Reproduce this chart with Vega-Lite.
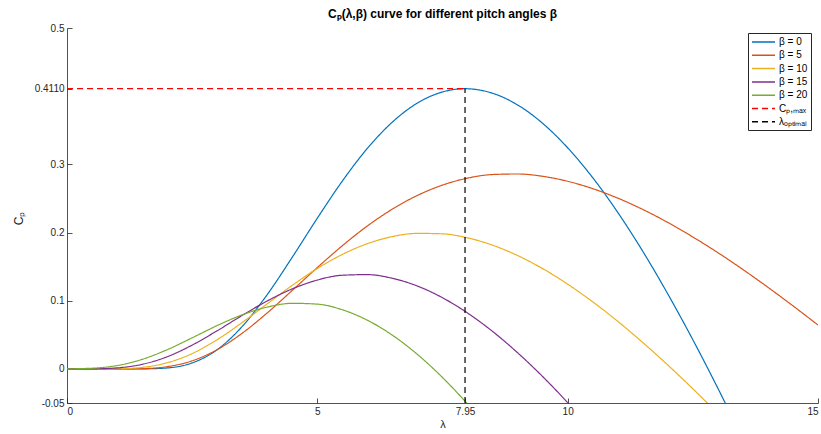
{
  "$schema": "https://vega.github.io/schema/vega-lite/v6.json",
  "width": 751,
  "height": 375,
  "autosize": {"type": "none"},
  "padding": {"left": 67, "top": 28, "right": 3, "bottom": 31},
  "background": "white",
  "title": {
    "text": "Cₚ(λ,β) curve for different pitch angles β",
    "font": "Liberation Sans",
    "fontSize": 12,
    "fontWeight": "bold",
    "color": "#000000",
    "anchor": "middle",
    "baseline": "alphabetic",
    "offset": -7
  },
  "datasets": {
    "curves": [
      {"series": "β = 0", "lambda": 0, "cp": 0},
      {"series": "β = 0", "lambda": 0.5, "cp": 0},
      {"series": "β = 0", "lambda": 1, "cp": 0},
      {"series": "β = 0", "lambda": 1.5, "cp": 0.00006},
      {"series": "β = 0", "lambda": 2, "cp": 0.0014},
      {"series": "β = 0", "lambda": 2.5, "cp": 0.0088},
      {"series": "β = 0", "lambda": 3, "cp": 0.0282},
      {"series": "β = 0", "lambda": 3.5, "cp": 0.0623},
      {"series": "β = 0", "lambda": 4, "cp": 0.1091},
      {"series": "β = 0", "lambda": 4.5, "cp": 0.1639},
      {"series": "β = 0", "lambda": 5, "cp": 0.2211},
      {"series": "β = 0", "lambda": 5.5, "cp": 0.2756},
      {"series": "β = 0", "lambda": 6, "cp": 0.3235},
      {"series": "β = 0", "lambda": 6.5, "cp": 0.3621},
      {"series": "β = 0", "lambda": 7, "cp": 0.39},
      {"series": "β = 0", "lambda": 7.5, "cp": 0.4062},
      {"series": "β = 0", "lambda": 7.95, "cp": 0.411},
      {"series": "β = 0", "lambda": 8, "cp": 0.4109},
      {"series": "β = 0", "lambda": 8.5, "cp": 0.4043},
      {"series": "β = 0", "lambda": 9, "cp": 0.3872},
      {"series": "β = 0", "lambda": 9.5, "cp": 0.3602},
      {"series": "β = 0", "lambda": 10, "cp": 0.3243},
      {"series": "β = 0", "lambda": 10.5, "cp": 0.2805},
      {"series": "β = 0", "lambda": 11, "cp": 0.2296},
      {"series": "β = 0", "lambda": 11.5, "cp": 0.1725},
      {"series": "β = 0", "lambda": 12, "cp": 0.1099},
      {"series": "β = 0", "lambda": 12.5, "cp": 0.0428},
      {"series": "β = 0", "lambda": 13, "cp": -0.0284},
      {"series": "β = 0", "lambda": 13.5, "cp": -0.1029},

      {"series": "β = 5", "lambda": 0, "cp": 0},
      {"series": "β = 5", "lambda": 0.5, "cp": 0},
      {"series": "β = 5", "lambda": 1, "cp": 0},
      {"series": "β = 5", "lambda": 1.5, "cp": 0.0004},
      {"series": "β = 5", "lambda": 2, "cp": 0.0033},
      {"series": "β = 5", "lambda": 2.5, "cp": 0.0119},
      {"series": "β = 5", "lambda": 3, "cp": 0.0283},
      {"series": "β = 5", "lambda": 3.5, "cp": 0.0524},
      {"series": "β = 5", "lambda": 4, "cp": 0.0822},
      {"series": "β = 5", "lambda": 4.5, "cp": 0.1152},
      {"series": "β = 5", "lambda": 5, "cp": 0.1487},
      {"series": "β = 5", "lambda": 5.5, "cp": 0.1807},
      {"series": "β = 5", "lambda": 6, "cp": 0.2097},
      {"series": "β = 5", "lambda": 6.5, "cp": 0.2344},
      {"series": "β = 5", "lambda": 7, "cp": 0.2545},
      {"series": "β = 5", "lambda": 7.5, "cp": 0.2696},
      {"series": "β = 5", "lambda": 8, "cp": 0.2798},
      {"series": "β = 5", "lambda": 8.5, "cp": 0.2851},
      {"series": "β = 5", "lambda": 9, "cp": 0.2859},
      {"series": "β = 5", "lambda": 9.5, "cp": 0.2825},
      {"series": "β = 5", "lambda": 10, "cp": 0.2752},
      {"series": "β = 5", "lambda": 10.5, "cp": 0.2644},
      {"series": "β = 5", "lambda": 11, "cp": 0.2505},
      {"series": "β = 5", "lambda": 11.5, "cp": 0.2339},
      {"series": "β = 5", "lambda": 12, "cp": 0.2148},
      {"series": "β = 5", "lambda": 12.5, "cp": 0.1935},
      {"series": "β = 5", "lambda": 13, "cp": 0.1705},
      {"series": "β = 5", "lambda": 13.5, "cp": 0.1458},
      {"series": "β = 5", "lambda": 14, "cp": 0.1197},
      {"series": "β = 5", "lambda": 14.5, "cp": 0.0925},
      {"series": "β = 5", "lambda": 15, "cp": 0.0643},

      {"series": "β = 10", "lambda": 0, "cp": 0},
      {"series": "β = 10", "lambda": 0.5, "cp": 0},
      {"series": "β = 10", "lambda": 1, "cp": 0.0002},
      {"series": "β = 10", "lambda": 1.5, "cp": 0.0022},
      {"series": "β = 10", "lambda": 2, "cp": 0.009},
      {"series": "β = 10", "lambda": 2.5, "cp": 0.0225},
      {"series": "β = 10", "lambda": 3, "cp": 0.0429},
      {"series": "β = 10", "lambda": 3.5, "cp": 0.0681},
      {"series": "β = 10", "lambda": 4, "cp": 0.0955},
      {"series": "β = 10", "lambda": 4.5, "cp": 0.1226},
      {"series": "β = 10", "lambda": 5, "cp": 0.1473},
      {"series": "β = 10", "lambda": 5.5, "cp": 0.1679},
      {"series": "β = 10", "lambda": 6, "cp": 0.1837},
      {"series": "β = 10", "lambda": 6.5, "cp": 0.1941},
      {"series": "β = 10", "lambda": 7, "cp": 0.1988},
      {"series": "β = 10", "lambda": 7.5, "cp": 0.1981},
      {"series": "β = 10", "lambda": 8, "cp": 0.1922},
      {"series": "β = 10", "lambda": 8.5, "cp": 0.1815},
      {"series": "β = 10", "lambda": 9, "cp": 0.1663},
      {"series": "β = 10", "lambda": 9.5, "cp": 0.1471},
      {"series": "β = 10", "lambda": 10, "cp": 0.1243},
      {"series": "β = 10", "lambda": 10.5, "cp": 0.0984},
      {"series": "β = 10", "lambda": 11, "cp": 0.0698},
      {"series": "β = 10", "lambda": 11.5, "cp": 0.0387},
      {"series": "β = 10", "lambda": 12, "cp": 0.0057},
      {"series": "β = 10", "lambda": 12.5, "cp": -0.0291},
      {"series": "β = 10", "lambda": 13, "cp": -0.0654},

      {"series": "β = 15", "lambda": 0, "cp": 0},
      {"series": "β = 15", "lambda": 0.5, "cp": 0.0001},
      {"series": "β = 15", "lambda": 1, "cp": 0.0015},
      {"series": "β = 15", "lambda": 1.5, "cp": 0.0067},
      {"series": "β = 15", "lambda": 2, "cp": 0.0178},
      {"series": "β = 15", "lambda": 2.5, "cp": 0.0349},
      {"series": "β = 15", "lambda": 3, "cp": 0.056},
      {"series": "β = 15", "lambda": 3.5, "cp": 0.0785},
      {"series": "β = 15", "lambda": 4, "cp": 0.0997},
      {"series": "β = 15", "lambda": 4.5, "cp": 0.1174},
      {"series": "β = 15", "lambda": 5, "cp": 0.1303},
      {"series": "β = 15", "lambda": 5.5, "cp": 0.1374},
      {"series": "β = 15", "lambda": 6, "cp": 0.1383},
      {"series": "β = 15", "lambda": 6.5, "cp": 0.1329},
      {"series": "β = 15", "lambda": 7, "cp": 0.1215},
      {"series": "β = 15", "lambda": 7.5, "cp": 0.1044},
      {"series": "β = 15", "lambda": 8, "cp": 0.082},
      {"series": "β = 15", "lambda": 8.5, "cp": 0.055},
      {"series": "β = 15", "lambda": 9, "cp": 0.0237},
      {"series": "β = 15", "lambda": 9.5, "cp": -0.0112},
      {"series": "β = 15", "lambda": 10, "cp": -0.0494},
      {"series": "β = 15", "lambda": 10.5, "cp": -0.0903},

      {"series": "β = 20", "lambda": 0, "cp": 0.0001},
      {"series": "β = 20", "lambda": 0.5, "cp": 0.001},
      {"series": "β = 20", "lambda": 1, "cp": 0.0049},
      {"series": "β = 20", "lambda": 1.5, "cp": 0.014},
      {"series": "β = 20", "lambda": 2, "cp": 0.0281},
      {"series": "β = 20", "lambda": 2.5, "cp": 0.0456},
      {"series": "β = 20", "lambda": 3, "cp": 0.0636},
      {"series": "β = 20", "lambda": 3.5, "cp": 0.0793},
      {"series": "β = 20", "lambda": 4, "cp": 0.0907},
      {"series": "β = 20", "lambda": 4.5, "cp": 0.0962},
      {"series": "β = 20", "lambda": 5, "cp": 0.095},
      {"series": "β = 20", "lambda": 5.5, "cp": 0.0867},
      {"series": "β = 20", "lambda": 6, "cp": 0.0714},
      {"series": "β = 20", "lambda": 6.5, "cp": 0.0494},
      {"series": "β = 20", "lambda": 7, "cp": 0.0212},
      {"series": "β = 20", "lambda": 7.5, "cp": -0.0126},
      {"series": "β = 20", "lambda": 8, "cp": -0.0515},
      {"series": "β = 20", "lambda": 8.5, "cp": -0.0947}
    ],
    "refs": [
      {"series": "Cₚ,ₘₐₓ", "lambda": 0, "cp": 0.411},
      {"series": "Cₚ,ₘₐₓ", "lambda": 7.95, "cp": 0.411},
      {"series": "λₒₚₜᵢₘₐₗ", "lambda": 7.95, "cp": -0.05},
      {"series": "λₒₚₜᵢₘₐₗ", "lambda": 7.95, "cp": 0.411}
    ]
  },
  "encoding": {
    "x": {
      "field": "lambda",
      "type": "quantitative",
      "scale": {"domain": [0, 15], "nice": false, "zero": false},
      "axis": {
        "title": "λ",
        "values": [0, 5, 7.95, 10, 15],
        "labelExpr": "datum.value == 7.95 ? '7.95' : format(datum.value, 'd')",
        "titlePadding": 2
      }
    },
    "y": {
      "field": "cp",
      "type": "quantitative",
      "scale": {"domain": [-0.05, 0.5], "nice": false, "zero": false},
      "axis": {
        "title": "Cₚ",
        "values": [-0.05, 0, 0.1, 0.2, 0.3, 0.411, 0.5],
        "labelExpr": "datum.value == 0.411 ? '0.4110' : (datum.value == -0.05 ? '-0.05' : format(datum.value, '~g'))",
        "titleX": -49,
        "titleY": 190,
        "titleAlign": "center",
        "titleBaseline": "middle",
        "titleFontSize": 12
      }
    },
    "color": {
      "field": "series",
      "type": "nominal",
      "scale": {
        "domain": ["β = 0", "β = 5", "β = 10", "β = 15", "β = 20", "Cₚ,ₘₐₓ", "λₒₚₜᵢₘₐₗ"],
        "range": ["#0072BD", "#D95319", "#EDB120", "#7E2F8E", "#77AC30", "#FF0000", "#000000"]
      },
      "legend": {
        "title": null,
        "orient": "none",
        "legendX": 681,
        "legendY": 5
      }
    },
    "strokeDash": {
      "field": "series",
      "type": "nominal",
      "scale": {
        "domain": ["β = 0", "β = 5", "β = 10", "β = 15", "β = 20", "Cₚ,ₘₐₓ", "λₒₚₜᵢₘₐₗ"],
        "range": [[1, 0], [1, 0], [1, 0], [1, 0], [1, 0], [6, 4], [6, 4]]
      },
      "legend": {
        "title": null,
        "orient": "none",
        "legendX": 681,
        "legendY": 5
      }
    }
  },
  "layer": [
    {
      "data": {"name": "curves"},
      "mark": {"type": "line", "interpolate": "monotone", "clip": true, "strokeWidth": 1.2}
    },
    {
      "data": {"name": "refs"},
      "mark": {"type": "line", "clip": true, "strokeWidth": 1.2}
    }
  ],
  "config": {
    "view": {"stroke": null},
    "font": "Liberation Sans",
    "axis": {
      "grid": false,
      "domainColor": "#262626",
      "domainWidth": 0.8,
      "tickColor": "#262626",
      "tickWidth": 0.8,
      "tickSize": -5,
      "labelPadding": 8,
      "labelFont": "Liberation Sans",
      "labelFontSize": 10,
      "labelColor": "#262626",
      "titleFont": "Liberation Sans",
      "titleFontSize": 11,
      "titleFontWeight": "normal",
      "titleColor": "#262626"
    },
    "legend": {
      "strokeColor": "#262626",
      "fillColor": "#ffffff",
      "padding": 3,
      "symbolType": "M-1,0H3.6",
      "symbolSize": 100,
      "symbolStrokeWidth": 1.5,
      "labelFont": "Liberation Sans",
      "labelFontSize": 10,
      "labelColor": "#000000",
      "labelOffset": 16,
      "rowPadding": 2.3
    }
  }
}
